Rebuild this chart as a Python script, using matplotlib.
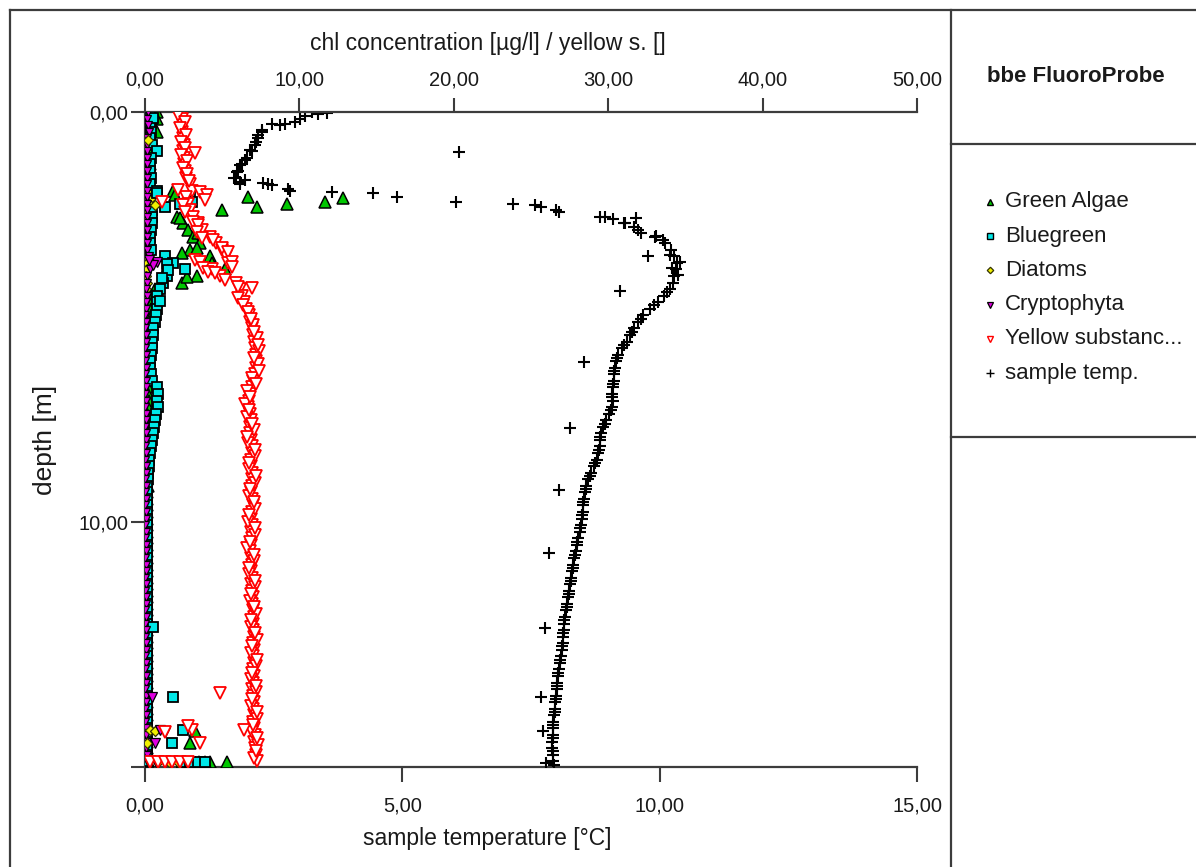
import matplotlib
matplotlib.use("Agg")
import matplotlib.pyplot as plt
from matplotlib.lines import Line2D
from matplotlib.ticker import FuncFormatter, FixedLocator
from matplotlib import font_manager

# ---------------------------------------------------------------- data
# probe depths of the main profile [m]
DEPTH = [
    0.00, 0.16, 0.32, 0.48, 0.64, 0.80, 0.96, 1.12, 1.28, 1.44,
    1.60, 1.76, 1.92, 2.08, 2.24, 2.40, 2.56, 2.72, 2.88, 3.04,
    3.20, 3.36, 3.52, 3.68, 3.84, 4.00, 4.16, 4.32, 4.48, 4.64,
    4.80, 4.96, 5.12, 5.28, 5.44, 5.60, 5.76, 5.92, 6.08, 6.24,
    6.40, 6.56, 6.72, 6.88, 7.04, 7.20, 7.36, 7.52, 7.68, 7.84,
    8.00, 8.16, 8.32, 8.48, 8.64, 8.80, 8.96, 9.12, 9.28, 9.44,
    9.60, 9.76, 9.92, 10.08, 10.24, 10.40, 10.56, 10.72, 10.88, 11.04,
    11.20, 11.36, 11.52, 11.68, 11.84, 12.00, 12.16, 12.32, 12.48, 12.64,
    12.80, 12.96, 13.12, 13.28, 13.44, 13.60, 13.76, 13.92, 14.08, 14.24,
    14.40, 14.56, 14.72, 14.88, 15.04, 15.20, 15.36, 15.52, 15.68, 15.84,
]

# chlorophyll of the algal classes [ug/l]
GREEN = [
    0.78, 0.78, 0.52, 0.78, 0.39, 0.32, 0.26, 0.26, 0.32, 0.26,
    0.26, 0.32, 1.81, 6.67, 9.20, 4.99, 2.07, 2.46, 2.78, 3.11,
    3.56, 2.91, 4.21, 4.34, 5.18, 3.37, 2.40, 0.65, 0.52, 0.45,
    0.39, 0.45, 0.32, 0.39, 0.32, 0.26, 0.32, 0.26, 0.20, 0.26,
    0.20, 0.26, 0.20, 0.20, 0.26, 0.20, 0.13, 0.20, 0.13, 0.20,
    0.13, 0.20, 0.13, 0.13, 0.20, 0.13, 0.13, 0.20, 0.13, 0.13,
    0.13, 0.10, 0.13, 0.10, 0.13, 0.10, 0.10, 0.13, 0.10, 0.10,
    0.13, 0.10, 0.10, 0.13, 0.10, 0.10, 0.13, 0.10, 0.10, 0.10,
    0.13, 0.10, 0.10, 0.13, 0.10, 0.10, 0.10, 0.13, 0.10, 0.10,
    0.13, 0.10, 0.10, 0.13, 0.10, 0.16, 0.13, 0.10, 0.16, 0.20,
]
BLUEGREEN = [
    0.32, 0.45, 0.32, 0.39, 0.32, 0.45, 0.78, 0.39, 0.32, 0.32,
    0.39, 0.32, 0.78, 2.91, 2.27, 0.45, 0.45, 0.45, 0.39, 0.32,
    0.32, 0.39, 1.30, 1.81, 2.59, 1.42, 1.17, 0.97, 0.78, 0.78,
    0.78, 0.71, 0.65, 0.52, 0.52, 0.45, 0.45, 0.39, 0.32, 0.32,
    0.39, 0.45, 0.78, 0.84, 0.78, 0.84, 0.71, 0.65, 0.58, 0.52,
    0.45, 0.39, 0.32, 0.26, 0.26, 0.20, 0.20, 0.16, 0.16, 0.13,
    0.13, 0.13, 0.10, 0.13, 0.10, 0.10, 0.13, 0.10, 0.10, 0.13,
    0.10, 0.10, 0.13, 0.10, 0.10, 0.10, 0.13, 0.10, 0.10, 0.10,
    0.10, 0.13, 0.10, 0.10, 0.10, 0.13, 0.10, 0.10, 0.10, 0.13,
    0.10, 0.10, 0.13, 0.10, 0.10, 0.13, 0.10, 0.13, 0.10, 0.16,
]
DIATOMS = [
    0.10, 0.13, 0.20, 0.26, 0.20, 0.13, 0.10, 0.13, 0.10, 0.10,
    0.06, 0.10, 0.13, 0.45, 0.26, 0.13, 0.10, 0.10, 0.06, 0.10,
    0.06, 0.10, 0.06, 0.13, 0.10, 0.06, 0.10, 0.06, 0.06, 0.10,
    0.06, 0.03, 0.06, 0.06, 0.03, 0.06, 0.03, 0.06, 0.06, 0.03,
    0.06, 0.06, 0.03, 0.06, 0.03, 0.06, 0.06, 0.03, 0.06, 0.03,
    0.03, 0.06, 0.06, 0.03, 0.06, 0.03, 0.06, 0.06, 0.03, 0.06,
    0.06, 0.03, 0.06, 0.03, 0.06, 0.06, 0.03, 0.06, 0.03, 0.06,
    0.03, 0.06, 0.03, 0.06, 0.06, 0.03, 0.06, 0.03, 0.06, 0.06,
    0.06, 0.03, 0.06, 0.06, 0.03, 0.06, 0.03, 0.06, 0.06, 0.03,
    0.06, 0.06, 0.03, 0.06, 0.03, 0.06, 0.06, 0.10, 0.06, 0.13,
]
CRYPTOPHYTA = [
    0.20, 0.13, 0.20, 0.26, 0.13, 0.10, 0.16, 0.13, 0.10, 0.13,
    0.10, 0.13, 0.10, 0.13, 0.10, 0.13, 0.10, 0.10, 0.13, 0.10,
    0.13, 0.16, 0.26, 0.45, 0.32, 0.13, 0.10, 0.06, 0.10, 0.06,
    0.06, 0.03, 0.06, 0.03, 0.06, 0.06, 0.03, 0.06, 0.03, 0.06,
    0.03, 0.06, 0.06, 0.03, 0.06, 0.03, 0.06, 0.06, 0.03, 0.06,
    0.06, 0.03, 0.06, 0.03, 0.06, 0.06, 0.03, 0.06, 0.03, 0.06,
    0.03, 0.06, 0.06, 0.03, 0.06, 0.03, 0.06, 0.06, 0.03, 0.06,
    0.06, 0.03, 0.06, 0.03, 0.06, 0.06, 0.03, 0.06, 0.03, 0.06,
    0.03, 0.06, 0.06, 0.03, 0.06, 0.03, 0.06, 0.06, 0.03, 0.06,
    0.06, 0.03, 0.06, 0.03, 0.06, 0.06, 0.10, 0.06, 0.10, 0.13,
]
# yellow substances [r.u.]
YELLOW_SUBST = [
    2.46, 2.40, 2.46, 2.40, 2.46, 2.53, 2.46, 2.53, 2.53, 2.59,
    2.66, 2.91, 3.04, 2.66, 2.78, 2.91, 3.11, 3.43, 3.69, 4.21,
    4.60, 4.99, 5.25, 5.38, 4.34, 4.86, 5.89, 6.15, 6.28, 6.41,
    6.54, 6.74, 6.80, 6.93, 6.99, 7.06, 7.12, 7.19, 7.19, 7.19,
    7.12, 6.99, 6.93, 6.80, 6.74, 6.67, 6.80, 6.87, 6.80, 6.80,
    6.87, 6.93, 6.93, 6.87, 6.87, 6.93, 6.93, 6.93, 6.87, 6.93,
    6.99, 6.93, 6.87, 6.93, 6.87, 6.93, 6.87, 6.80, 6.87, 6.93,
    6.87, 6.93, 6.87, 6.93, 6.99, 6.93, 6.99, 7.06, 6.99, 6.99,
    7.06, 6.99, 7.06, 6.99, 7.06, 6.99, 7.06, 6.99, 6.93, 6.99,
    7.06, 6.99, 7.06, 6.99, 7.06, 7.12, 7.06, 7.12, 7.19, 7.25,
]
# sample temperature [degC]
TEMP = [
    3.24, 3.01, 2.62, 2.27, 2.20, 2.14, 2.08, 1.98, 1.88, 1.81,
    1.77, 1.85, 2.82, 4.90, 7.15, 7.99, 8.94, 9.33, 9.58, 9.91,
    10.10, 10.22, 10.28, 10.34, 10.32, 10.28, 10.26, 10.20, 10.08, 9.97,
    9.81, 9.68, 9.58, 9.50, 9.42, 9.36, 9.27, 9.19, 9.15, 9.13,
    9.11, 9.11, 9.09, 9.07, 9.09, 9.07, 9.01, 8.96, 8.90, 8.86,
    8.84, 8.84, 8.80, 8.78, 8.72, 8.67, 8.61, 8.57, 8.55, 8.53,
    8.51, 8.51, 8.49, 8.47, 8.45, 8.41, 8.39, 8.37, 8.33, 8.32,
    8.30, 8.28, 8.26, 8.24, 8.22, 8.20, 8.18, 8.16, 8.14, 8.14,
    8.12, 8.12, 8.10, 8.08, 8.06, 8.04, 8.02, 8.00, 8.00, 7.99,
    7.97, 7.97, 7.95, 7.93, 7.93, 7.93, 7.91, 7.91, 7.93, 7.93,
]

# additional single readings (depth, value) outside the main profile
GREEN_EXTRA_DEPTH = [2.20, 2.10, 2.32, 2.59, 2.95, 3.32, 3.44, 4.02, 2.02,
                     15.10, 15.39, 15.86, 15.86, 15.86, 15.86]
GREEN_EXTRA = [11.66, 12.82, 7.25, 2.27, 3.43, 3.37, 2.40, 2.72, 1.94,
               3.24, 2.91, 5.31, 4.21, 3.89, 3.50]
BLUEGREEN_EXTRA_DEPTH = [0.15, 1.98, 2.20, 2.32, 3.70, 3.85, 4.05, 4.60,
                         12.56, 14.27, 15.07, 15.39, 15.86, 15.86, 15.86, 15.86]
BLUEGREEN_EXTRA = [0.52, 0.78, 3.04, 1.30, 1.42, 1.49, 1.10, 0.97,
                   0.52, 1.81, 2.46, 1.75, 2.40, 2.91, 3.43, 3.88]
DIATOMS_EXTRA_DEPTH = [2.27, 0.68, 15.07, 15.10, 15.39, 15.86, 15.86, 15.86]
DIATOMS_EXTRA = [0.65, 0.20, 0.32, 0.65, 0.13, 1.55, 0.84, 2.14]
CRYPTO_EXTRA_DEPTH = [3.66, 3.73, 3.60, 14.27, 15.39, 15.07, 15.12, 15.86, 15.86]
CRYPTO_EXTRA = [0.78, 0.52, 0.26, 0.45, 0.65, 0.97, 1.30, 0.26, 0.71]
YELLOW_EXTRA_DEPTH = [
    0.08, 0.24, 0.40, 0.56, 0.72, 0.88, 1.04, 1.20, 1.36, 1.52, 1.68,
    1.00, 1.90, 1.95, 2.02, 2.15, 2.20, 2.27, 2.44, 2.68, 2.76,
    2.93, 3.07, 3.12, 3.32, 3.41, 3.66, 3.78, 3.61, 3.66, 3.80,
    3.90, 3.93, 4.10, 4.27, 4.29, 4.54, 4.71,
    4.88, 5.20, 5.52, 5.84, 6.16, 6.48, 6.80, 7.12, 7.44, 7.76,
    8.08, 8.40, 8.72, 9.04, 9.36, 9.68, 10.00, 10.32, 10.64, 10.96,
    11.28, 11.60, 11.92, 12.24, 12.56, 12.88, 13.20, 13.52, 13.84, 14.16,
    14.48, 14.80, 15.12, 15.44, 15.76,
    5.04, 5.36, 5.68, 6.00, 6.32, 6.64, 6.96, 7.28, 7.60, 7.92,
    8.24, 8.56, 8.88, 9.20, 9.52, 9.84, 10.16, 10.48, 10.80, 11.12,
    11.44, 11.76, 12.08, 12.40, 12.72, 13.04, 13.36, 13.68, 14.00, 14.32,
    14.64, 14.96, 15.28, 15.60,
    14.17, 15.07, 15.39, 15.07, 15.12, 14.98,
    15.86, 15.86, 15.86, 15.86, 15.86, 15.86,
]
YELLOW_EXTRA = [
    2.14, 2.59, 2.27, 2.66, 2.33, 2.59, 2.33, 2.72, 2.46, 2.72, 2.85,
    3.24, 2.14, 3.56, 4.02, 3.89, 1.10, 2.46, 2.59, 3.11, 3.43,
    3.37, 3.69, 4.40, 4.99, 5.38, 5.64, 5.64, 3.24, 3.56, 3.76,
    4.08, 4.53, 5.18, 6.02, 6.93, 6.02, 6.34,
    6.67, 6.99, 7.25, 7.38, 7.32, 6.93, 6.61, 6.48, 6.61, 7.06,
    6.67, 7.12, 6.74, 7.12, 6.74, 7.12, 6.67, 7.12, 6.61, 7.06,
    6.74, 7.12, 6.80, 7.19, 6.87, 7.25, 6.87, 7.19, 6.87, 7.19,
    6.87, 7.25, 6.93, 7.32, 7.06,
    6.87, 7.06, 7.32, 7.06, 7.38, 7.19, 6.80, 6.74, 6.93, 6.61,
    7.12, 6.74, 7.19, 6.80, 7.06, 6.74, 7.12, 6.80, 7.06, 6.74,
    7.12, 6.87, 7.06, 6.87, 7.12, 6.93, 7.25, 6.93, 7.19, 6.93,
    7.25, 6.99, 7.25, 7.19,
    4.86, 6.41, 3.56, 3.04, 1.30, 2.78,
    0.32, 0.84, 1.30, 1.75, 2.27, 2.78,
]
TEMP_EXTRA_DEPTH = [
    0.02, 0.05, 0.10, 0.24, 0.29, 0.29, 0.44, 0.56, 0.73, 0.93,
    1.17, 1.29, 1.46, 1.61, 1.66, 1.71, 1.73, 1.76, 1.78, 1.88,
    1.95, 1.98, 2.20, 2.27, 2.32, 2.44, 2.56, 2.61, 2.71, 2.59,
    2.80, 2.95, 3.02, 3.12, 3.49, 3.66, 3.80, 3.98, 0.98, 3.51,
    4.37, 6.10, 7.71, 9.22, 10.76, 12.59, 14.27, 15.10, 15.88, 15.92,
    4.40, 4.72, 5.04, 5.36, 5.68, 6.00, 6.32, 6.64, 6.96, 7.28,
    7.60, 7.92, 8.24, 8.56, 8.88, 9.20, 9.52, 9.84, 10.16, 10.48,
    10.80, 11.12, 11.44, 11.76, 12.08, 12.40, 12.72, 13.04, 13.36, 13.68,
    14.00, 14.32, 14.64, 14.96, 15.28, 15.60,
]
TEMP_EXTRA = [
    3.54, 3.36, 3.11, 2.91, 2.72, 2.47, 2.27, 2.20, 2.16, 2.04,
    1.94, 1.85, 1.79, 1.73, 1.94, 1.85, 2.29, 2.39, 2.47, 2.78,
    3.63, 4.43, 6.04, 7.58, 7.69, 8.04, 8.84, 9.09, 9.31, 9.54,
    9.50, 9.64, 9.93, 10.06, 10.20, 10.39, 10.24, 10.36, 6.10, 9.77,
    9.23, 8.53, 8.26, 8.04, 7.85, 7.77, 7.69, 7.73, 7.79, 7.95,
    10.14, 9.89, 9.64, 9.46, 9.31, 9.17, 9.12, 9.10, 9.08, 9.05,
    8.93, 8.85, 8.82, 8.75, 8.64, 8.56, 8.52, 8.50, 8.46, 8.40,
    8.35, 8.31, 8.27, 8.23, 8.19, 8.15, 8.13, 8.11, 8.07, 8.03,
    8.00, 7.98, 7.96, 7.93, 7.92, 7.92,
]

DEPTH_MAX = 15.98
CHL_TICKS = [0, 10, 20, 30, 40, 50]
TEMP_TICKS = [0, 5, 10, 15]
DEPTH_TICKS = [0, 10]

LEGEND_LABELS = ["Green Algae", "Bluegreen", "Diatoms", "Cryptophyta",
                 "Yellow substanc...", "sample temp."]

# ---------------------------------------------------------------- style
installed = {f.name for f in font_manager.fontManager.ttflist}
SANS = "Liberation Sans" if "Liberation Sans" in installed else "DejaVu Sans"
NARROW = ("Liberation Sans Narrow" if "Liberation Sans Narrow" in installed
          else ("DejaVu Sans Condensed" if "DejaVu Sans Condensed" in installed
                else SANS))
plt.rcParams["font.family"] = SANS

INK = "#1a1a1a"
LINE = "#3c3c3c"
C_GREEN = "#00c800"
C_CYAN = "#00e8e8"
C_YELLOW = "#f0f000"
C_MAGENTA = "#e000e0"
C_RED = "#ff0000"

styles = {
    "green": dict(marker="^", ms=8.0, mfc=C_GREEN, mec="black", mew=1.1),
    "cyan": dict(marker="s", ms=7.0, mfc=C_CYAN, mec="black", mew=1.3),
    "diatom": dict(marker="D", ms=5.5, mfc=C_YELLOW, mec="#333300", mew=0.9),
    "crypto": dict(marker="v", ms=6.5, mfc=C_MAGENTA, mec="black", mew=0.9),
    "yellow": dict(marker="v", ms=8.0, mfc="white", mec=C_RED, mew=1.3),
    "temp": dict(marker="+", ms=8.5, mfc="none", mec="black", mew=1.5),
}

W, H = 1196, 867
fig = plt.figure(figsize=(W / 100, H / 100), dpi=100)
fig.patch.set_facecolor("white")

L, R, T, B = 145, 917, 112, 767
ax = fig.add_axes([L / W, 1 - B / H, (R - L) / W, (B - T) / H])
ax_chl = ax.twiny()

comma = FuncFormatter(lambda v, _: f"{v:.2f}".replace(".", ","))

# temperature axis (bottom) and depth axis (left)
ax.set_xlim(0, 15)
ax.set_ylim(DEPTH_MAX, 0)
ax.xaxis.set_major_locator(FixedLocator(TEMP_TICKS))
ax.yaxis.set_major_locator(FixedLocator(DEPTH_TICKS))
ax.yaxis.set_minor_locator(FixedLocator([DEPTH_MAX]))
ax.xaxis.set_major_formatter(comma)
ax.yaxis.set_major_formatter(comma)
ax.tick_params(axis="x", which="major", direction="out", length=11, width=1.5,
               color=LINE, pad=10, labelsize=14.5, labelcolor=INK)
ax.tick_params(axis="y", which="major", direction="out", length=10, width=1.5,
               color=LINE, pad=2, labelsize=14.5, labelcolor=INK)
ax.tick_params(axis="y", which="minor", direction="out", length=10, width=1.5,
               color=LINE)
for lab in ax.get_xticklabels() + ax.get_yticklabels():
    lab.set_family(NARROW)

# chlorophyll axis (top)
ax_chl.set_xlim(0, 50)
ax_chl.xaxis.set_major_locator(FixedLocator(CHL_TICKS))
ax_chl.xaxis.set_major_formatter(comma)
ax_chl.tick_params(axis="x", direction="out", length=10, width=1.5, color=LINE,
                   pad=6, labelsize=14.5, labelcolor=INK)
for lab in ax_chl.get_xticklabels():
    lab.set_family(NARROW)

for a in (ax, ax_chl):
    for side, sp in a.spines.items():
        sp.set_linewidth(1.6)
        sp.set_color(LINE)
ax.spines["right"].set_visible(False)
ax.spines["top"].set_visible(False)
ax_chl.spines["right"].set_visible(False)
ax_chl.spines["left"].set_visible(False)
ax_chl.spines["bottom"].set_visible(False)

ax_chl.set_xlabel("chl concentration [µg/l] / yellow s. []", fontsize=16.5,
                  color=INK, va="center")
ax_chl.xaxis.set_label_coords((488 - L) / (R - L), (B - 44) / (B - T))
ax.set_xlabel("sample temperature [°C]", fontsize=16.5, color=INK, va="center")
ax.xaxis.set_label_coords((487 - L) / (R - L), (B - 838) / (B - T))
ax.set_ylabel("depth [m]", fontsize=19, color=INK, va="center")
ax.yaxis.set_label_coords((45 - L) / (R - L), (B - 440) / (B - T))

# ---------------------------------------------------------------- marks
ax.plot(TEMP, DEPTH, ls="none", zorder=3, **styles["temp"])
ax.plot(TEMP_EXTRA, TEMP_EXTRA_DEPTH, ls="none", zorder=3, **styles["temp"])

# the near-zero column: diatoms underneath, bluegreen, then cryptophyta on top
ax_chl.plot(DIATOMS, DEPTH, ls="none", zorder=3, **styles["diatom"])
ax_chl.plot(GREEN, DEPTH, ls="none", zorder=3.5, **styles["green"])
ax_chl.plot(GREEN_EXTRA, GREEN_EXTRA_DEPTH, ls="none", zorder=3.5, **styles["green"])
ax_chl.plot(BLUEGREEN, DEPTH, ls="none", zorder=4, **styles["cyan"])
ax_chl.plot(BLUEGREEN_EXTRA, BLUEGREEN_EXTRA_DEPTH, ls="none", zorder=4, **styles["cyan"])
crypto_small = dict(styles["crypto"], ms=5.5)
ax_chl.plot(CRYPTOPHYTA, DEPTH, ls="none", zorder=4.5, **crypto_small)
ax_chl.plot(DIATOMS_EXTRA, DIATOMS_EXTRA_DEPTH, ls="none", zorder=5, **styles["diatom"])
ax_chl.plot(CRYPTO_EXTRA, CRYPTO_EXTRA_DEPTH, ls="none", zorder=6, **styles["crypto"])
ax_chl.plot(YELLOW_SUBST, DEPTH, ls="none", zorder=7, **styles["yellow"])
ax_chl.plot(YELLOW_EXTRA, YELLOW_EXTRA_DEPTH, ls="none", zorder=7, **styles["yellow"])


# ---------------------------------------------------------------- frame and side panel
def fig_line(x0, y0, x1, y1):
    fig.add_artist(Line2D([x0 / W, x1 / W], [1 - y0 / H, 1 - y1 / H],
                          transform=fig.transFigure, color=LINE, lw=1.6))


fig_line(10, 10, W, 10)
fig_line(10, 10, 10, H)
fig_line(951, 10, 951, H)
fig_line(951, 144, W, 144)
fig_line(951, 437, W, 437)

fig.text(987 / W, 1 - 76 / H, "bbe FluoroProbe", fontsize=16, fontweight="bold",
         color=INK, ha="left", va="center")

legend_styles = ["green", "cyan", "diatom", "crypto", "yellow", "temp"]
for i, (label, key) in enumerate(zip(LEGEND_LABELS, legend_styles)):
    y = 202 + i * 34.2
    st = dict(styles[key])
    st["ms"] = st["ms"] * 0.6
    st["mew"] = min(st["mew"], 1.0)
    fig.add_artist(Line2D([990 / W], [1 - y / H], transform=fig.transFigure,
                          ls="none", **st))
    fig.text(1005 / W, 1 - y / H, label, fontsize=16, color=INK,
             ha="left", va="center")

fig.savefig("out.png", dpi=100, facecolor="white")
